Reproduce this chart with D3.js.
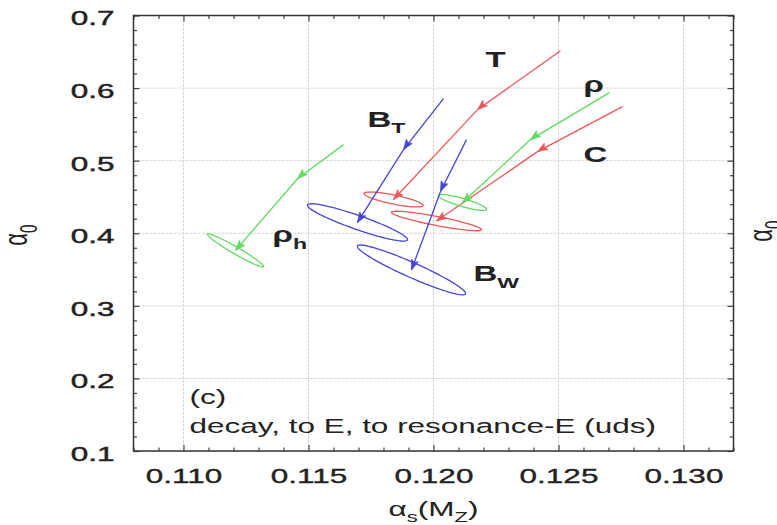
<!DOCTYPE html>
<meta charset="utf-8">
<script src="https://d3js.org/d3.v7.min.js"></script>
<style>
  body { margin: 0; background: #fff; }
  text { font-family: "Liberation Sans", Arial, sans-serif; fill: #222; }
</style>
<div id="chart"></div>
<script>

// tick values
var xTicks = [0.110, 0.115, 0.120, 0.125, 0.130];
var yTicks = [0.1, 0.2, 0.3, 0.4, 0.5, 0.6, 0.7];

// fit trajectories: start -> intermediate -> final (alpha_s(MZ), alpha_0)
var pathT    = [[0.12508, 0.6514], [0.12176, 0.5703], [0.11840, 0.4465]];
var pathC    = [[0.12756, 0.5744], [0.12416, 0.5125], [0.12012, 0.4169]];
var pathRho  = [[0.12704, 0.5937], [0.12388, 0.5290], [0.12116, 0.4424]];
var pathBT   = [[0.12040, 0.5854], [0.11880, 0.5153], [0.11696, 0.4149]];
var pathBW   = [[0.12132, 0.5290], [0.12028, 0.4575], [0.11912, 0.3495]];
var pathRhoH = [[0.11640, 0.5221], [0.11456, 0.4751], [0.11208, 0.3764]];

// error ellipse half axes around the final point (major, minor), data units
var axesT    = [[0.00118, -0.0083], [-0.000036, -0.0061]];
var axesC    = [[0.00180, -0.0120], [-0.000034, -0.0061]];
var axesRho  = [[0.00096, -0.0096], [-0.000045, -0.0053]];
var axesBT   = [[0.00200, -0.0241], [-0.000093, -0.0091]];
var axesBW   = [[0.00216, -0.0330], [-0.000122, -0.0094]];
var axesRhoH = [[0.00112, -0.0224], [-0.000070, -0.0042]];

// curve labels: [text, subscript, alpha_s, alpha_0]
var curveLabels = [
  ["T", "", 0.12208, 0.6294],
  ["C", "", 0.12600, 0.4988],
  ["\u03c1", "", 0.12600, 0.5950],
  ["B", "T", 0.11736, 0.5469],
  ["B", "W", 0.12160, 0.3337],
  ["\u03c1", "h", 0.11356, 0.3873]
];

var red = "rgb(236,88,90)", green = "rgb(96,218,96)", blue = "rgb(70,70,212)";
var series = [
  {path: pathT, axes: axesT, color: red},
  {path: pathC, axes: axesC, color: red},
  {path: pathRho, axes: axesRho, color: green},
  {path: pathBT, axes: axesBT, color: blue},
  {path: pathBW, axes: axesBW, color: blue},
  {path: pathRhoH, axes: axesRhoH, color: green}
];

var W = 777, H = 525, sx = 1.5;
var svg = d3.select("#chart").append("svg").attr("width", W).attr("height", H);

var x = d3.scaleLinear().domain([0.108, 0.132]).range([133.5, 733.5]);
var y = d3.scaleLinear().domain([0.1, 0.7]).range([451, 15.5]);

var xMinor = d3.range(0.108, 0.1325, 0.001).filter(function(v){ return Math.abs(v*200 - Math.round(v*200)) > 1e-6; });
var yMinor = d3.range(0.12, 0.7, 0.02).filter(function(v){ return Math.abs(v*10 - Math.round(v*10)) > 1e-6; });

// grid
svg.append("g").selectAll("line").data(xTicks).enter().append("line")
  .attr("x1", function(d){ return x(d); }).attr("x2", function(d){ return x(d); })
  .attr("y1", y(0.1)).attr("y2", y(0.7))
  .attr("stroke", "#d6d6d6").attr("stroke-width", 1).attr("stroke-dasharray", "3,1");
svg.append("g").selectAll("line").data(yTicks.slice(1, -1)).enter().append("line")
  .attr("y1", function(d){ return y(d); }).attr("y2", function(d){ return y(d); })
  .attr("x1", x(0.108)).attr("x2", x(0.132))
  .attr("stroke", "#d6d6d6").attr("stroke-width", 1).attr("stroke-dasharray", "3,1");

function styleAxis(g) {
  g.select(".domain").remove();
  g.selectAll(".tick line").attr("stroke", "#444").attr("stroke-width", 1.2);
}

// bottom
svg.append("g").attr("transform", "translate(0," + y(0.1) + ")")
  .call(d3.axisBottom(x).tickValues(xTicks).tickSize(-6).tickFormat(d3.format(".3f")))
  .call(styleAxis)
  .call(function(g){
    g.selectAll("text").attr("y", 32).attr("dy", 0).attr("font-size", 21)
      .attr("font-family", null).attr("fill", "#222").attr("stroke", "#222").attr("stroke-width", 0.35)
      .attr("transform", "scale(" + sx + ",1)");
  });
svg.append("g").attr("transform", "translate(0," + y(0.1) + ")")
  .call(d3.axisBottom(x).tickValues(xMinor).tickSize(-3.5).tickFormat(""))
  .call(styleAxis);
// top
svg.append("g").attr("transform", "translate(0," + y(0.7) + ")")
  .call(d3.axisTop(x).tickValues(xTicks).tickSize(-6).tickFormat(""))
  .call(styleAxis);
svg.append("g").attr("transform", "translate(0," + y(0.7) + ")")
  .call(d3.axisTop(x).tickValues(xMinor).tickSize(-3.5).tickFormat(""))
  .call(styleAxis);
// left
svg.append("g").attr("transform", "translate(" + x(0.108) + ",0)")
  .call(d3.axisLeft(y).tickValues(yTicks).tickSize(-6).tickFormat(d3.format(".1f")))
  .call(styleAxis)
  .call(function(g){
    g.selectAll("text").attr("x", -19 / sx).attr("dy", "0.45em").attr("font-size", 21)
      .attr("font-family", null).attr("fill", "#222").attr("stroke", "#222").attr("stroke-width", 0.45)
      .attr("transform", "scale(" + sx + ",1)");
  });
svg.append("g").attr("transform", "translate(" + x(0.108) + ",0)")
  .call(d3.axisLeft(y).tickValues(yMinor).tickSize(-3.5).tickFormat(""))
  .call(styleAxis);
// right
svg.append("g").attr("transform", "translate(" + x(0.132) + ",0)")
  .call(d3.axisRight(y).tickValues(yTicks).tickSize(-6).tickFormat(""))
  .call(styleAxis);
svg.append("g").attr("transform", "translate(" + x(0.132) + ",0)")
  .call(d3.axisRight(y).tickValues(yMinor).tickSize(-3.5).tickFormat(""))
  .call(styleAxis);

// frame
svg.append("rect")
  .attr("x", x(0.108)).attr("y", y(0.7))
  .attr("width", x(0.132) - x(0.108)).attr("height", y(0.1) - y(0.7))
  .attr("fill", "none").attr("stroke", "#333").attr("stroke-width", 1.5);

// arrow markers, one per colour
var defs = svg.append("defs");
[["r", red], ["g", green], ["b", blue]].forEach(function(m){
  defs.append("marker")
    .attr("id", "arr-" + m[0])
    .attr("viewBox", "-11 -5 12 10")
    .attr("refX", 0).attr("refY", 0)
    .attr("markerUnits", "userSpaceOnUse")
    .attr("markerWidth", 12).attr("markerHeight", 10)
    .attr("orient", "auto")
    .append("path")
      .attr("d", "M0,0 L-10,-3.6 L-8,0 L-10,3.6 Z")
      .attr("fill", m[1]).attr("stroke", m[1]).attr("stroke-width", 0.7);
});
function markerId(c){ return c === red ? "arr-r" : (c === green ? "arr-g" : "arr-b"); }

var line = d3.line().x(function(d){ return x(d[0]); }).y(function(d){ return y(d[1]); });
var ellLine = d3.line().x(function(d){ return x(d[0]); }).y(function(d){ return y(d[1]); })
  .curve(d3.curveLinearClosed);

var marks = svg.append("g");
series.forEach(function(s){
  var c = s.path[s.path.length - 1], u = s.axes[0], v = s.axes[1];
  var pts = d3.range(0, 2 * Math.PI, Math.PI / 60).map(function(t){
    return [c[0] + Math.cos(t) * u[0] + Math.sin(t) * v[0],
            c[1] + Math.cos(t) * u[1] + Math.sin(t) * v[1]];
  });
  marks.append("path").attr("d", ellLine(pts))
    .attr("fill", "none").attr("stroke", s.color).attr("stroke-width", 1.3);
  marks.append("path").attr("d", line(s.path))
    .attr("fill", "none").attr("stroke", s.color).attr("stroke-width", 1.3)
    .attr("marker-mid", "url(#" + markerId(s.color) + ")")
    .attr("marker-end", "url(#" + markerId(s.color) + ")");
});

// stretched text helper
function label(px, py, parts, size, weight, rotate) {
  var g = svg.append("g")
    .attr("transform", "translate(" + px + "," + py + ") scale(" + sx + ",1)" + (rotate ? " rotate(-90)" : ""));
  var t = g.append("text").attr("font-size", size).attr("font-weight", weight || "normal")
    .attr("text-anchor", rotate ? "middle" : "start");
  parts.forEach(function(p){
    var ts = t.append("tspan").text(p[0]);
    if (p[1] === "sub") ts.attr("font-size", size * 0.7).attr("dy", size * 0.3);
    if (p[1] === "up") ts.attr("dy", -size * 0.3);
  });
  return t;
}

curveLabels.forEach(function(l){
  var parts = [[l[0]]];
  if (l[1]) parts.push([l[1], "sub"]);
  label(x(l[2]), y(l[3]), parts, 22, "bold");
});

// panel annotation
label(x(0.11024), y(0.1650), [["(c)"]], 21);
label(x(0.11024), y(0.1250), [["decay, to E, to resonance-E (uds)"]], 21);

// axis titles
label(x(0.120), 516, [["\u03b1"], ["s", "sub"], ["(M", "up"], ["Z", "sub"], [")", "up"]], 21)
  .attr("text-anchor", "middle");
label(27, 235, [["\u03b1"], ["0", "sub"]], 22, "normal", true);
// neighbouring panel's axis title, cut by the image edge
label(772, 231, [["\u03b1"], ["0", "sub"]], 22, "normal", true);

</script>
